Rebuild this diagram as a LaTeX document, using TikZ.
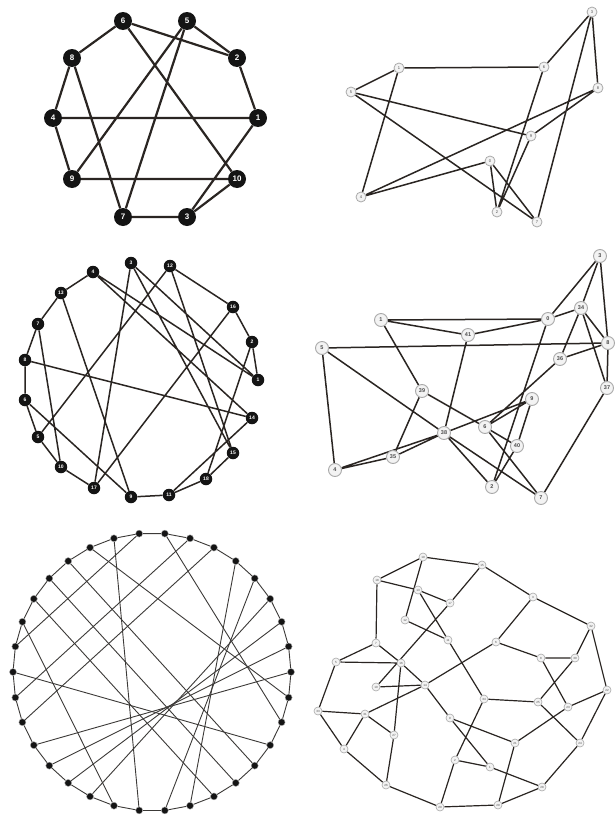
\documentclass[tikz,border=0pt]{standalone}
\usepackage{fontspec}
\setmainfont{Liberation Sans}
\usetikzlibrary{backgrounds}
\definecolor{dotblack}{HTML}{141414}
\definecolor{ringgray}{HTML}{A9A9A9}
\definecolor{ringfill}{HTML}{F3F3F3}
\definecolor{labelgray}{HTML}{4A4A4A}
\definecolor{wirebrown}{HTML}{2A2522}
\definecolor{wiregray}{HTML}{3C3A38}
\tikzset{
  bigdot/.style={circle,fill=dotblack,text=white,inner sep=0pt,minimum size=18pt,font=\fontsize{8}{8}\selectfont\bfseries},
  middot/.style={circle,fill=dotblack,text=white,inner sep=0pt,minimum size=12.5pt,font=\fontsize{5}{5}\selectfont\bfseries},
  tinydot/.style={circle,fill=dotblack,draw=ringgray,line width=0.4pt,inner sep=0pt,minimum size=7pt},
  smallring/.style={circle,draw=ringgray,fill=ringfill,text=labelgray,line width=0.8pt,inner sep=0pt,minimum size=10pt,font=\fontsize{4}{4}\selectfont},
  midring/.style={circle,draw=ringgray,fill=ringfill,text=labelgray,line width=0.9pt,inner sep=0pt,minimum size=13pt,font=\fontsize{5.5}{5.5}\selectfont\bfseries},
  tinyring/.style={circle,draw=ringgray,fill=ringfill,text=labelgray,line width=0.6pt,inner sep=0pt,minimum size=8pt,font=\fontsize{3}{3}\selectfont},
  heavywire/.style={wirebrown,line width=2.2pt},
  wire/.style={wirebrown,line width=1.5pt},
  thinwire/.style={wiregray,line width=0.9pt}
}

\begin{document}
\begin{tikzpicture}[x=1pt,y=-1pt]
  \useasboundingbox (0,0) rectangle (615,819);
  \begin{scope}[on background layer]
    \fill[white] (0,0) rectangle (615,819);
  \end{scope}

  % ten nodes on a ring
  \node[bigdot] (a1) at (258,118) {1}; \node[bigdot] (a2) at (237,58) {2};
  \node[bigdot] (a3) at (187,217) {3}; \node[bigdot] (a4) at (53,118) {4};
  \node[bigdot] (a5) at (187,21) {5};  \node[bigdot] (a6) at (123,21) {6};
  \node[bigdot] (a7) at (123,217) {7}; \node[bigdot] (a8) at (72,58) {8};
  \node[bigdot] (a9) at (72,179) {9};  \node[bigdot] (a10) at (237,179) {10};
  \begin{scope}[on background layer]
    \draw[heavywire] (a6)--(a8) (a6)--(a2) (a6)--(a10) (a5)--(a2) (a5)--(a9) (a5)--(a7)
      (a8)--(a4) (a8)--(a7) (a2)--(a1) (a4)--(a1) (a4)--(a9) (a1)--(a3)
      (a9)--(a10) (a10)--(a3) (a7)--(a3);
  \end{scope}

  % same ten, free layout
  \node[smallring] (b3) at (592,12) {3}; \node[smallring] (b1) at (399,68) {1};
  \node[smallring] (b6) at (544,67) {6}; \node[smallring] (b5) at (351,92) {5};
  \node[smallring] (b8) at (598,88) {8}; \node[smallring] (b9) at (531,136) {9};
  \node[smallring] (b10) at (490,161) {0}; \node[smallring] (b4) at (361,197) {4};
  \node[smallring] (b2) at (497,212) {2}; \node[smallring] (b7) at (537,222) {7};
  \begin{scope}[on background layer]
    \draw[wire] (b1)--(b6) (b1)--(b5) (b1)--(b4) (b5)--(b9) (b5)--(b7) (b3)--(b6)
      (b3)--(b8) (b3)--(b7) (b6)--(b2) (b8)--(b4) (b8)--(b9) (b9)--(b2)
      (b10)--(b4) (b10)--(b2) (b10)--(b7);
  \end{scope}

  % eighteen nodes on a ring
  \node[middot] (c3) at (131,263) {3};   \node[middot] (c12) at (170,266) {12};
  \node[middot] (c4) at (93,272) {4};    \node[middot] (c13) at (61,293) {13};
  \node[middot] (c16) at (233,307) {16}; \node[middot] (c7) at (38,324) {7};
  \node[middot] (c2) at (252,342) {2};   \node[middot] (c8) at (25,360) {8};
  \node[middot] (c1) at (258,380) {1};   \node[middot] (c6) at (25,400) {6};
  \node[middot] (c14) at (252,418) {14}; \node[middot] (c5) at (38,437) {5};
  \node[middot] (c15) at (233,453) {15}; \node[middot] (c10) at (61,467) {10};
  \node[middot] (c18) at (206,479) {18}; \node[middot] (c17) at (94,488) {17};
  \node[middot] (c9) at (131,497) {9};   \node[middot] (c11) at (169,495) {11};
  \begin{scope}[on background layer]
    \draw[wire] (c4)--(c13) (c13)--(c7) (c7)--(c8) (c8)--(c6) (c6)--(c5) (c5)--(c10)
      (c10)--(c17) (c9)--(c11) (c11)--(c18) (c18)--(c15) (c16)--(c2) (c2)--(c1)
      (c12)--(c16) (c4)--(c1) (c4)--(c14) (c3)--(c17) (c3)--(c1) (c3)--(c15)
      (c12)--(c5) (c12)--(c15) (c13)--(c9) (c7)--(c10) (c8)--(c14) (c6)--(c9)
      (c16)--(c17) (c2)--(c18) (c14)--(c11);
  \end{scope}

  % eighteen, free layout
  \node[midring] (d3) at (600,256) {3};   \node[midring] (d34) at (581,308) {34};
  \node[midring] (d1) at (381,320) {1};   \node[midring] (d0) at (548,319) {0};
  \node[midring] (d41) at (468,335) {41}; \node[midring] (d5) at (322,348) {5};
  \node[midring] (d8) at (608,343) {8};   \node[midring] (d36) at (560,359) {36};
  \node[midring] (d39) at (422,391) {39}; \node[midring] (d37) at (607,388) {37};
  \node[midring] (d9) at (532,399) {9};   \node[midring] (d6) at (485,427) {6};
  \node[midring] (d38) at (444,433) {38}; \node[midring] (d40) at (517,446) {40};
  \node[midring] (d35) at (393,457) {35}; \node[midring] (d4) at (335,470) {4};
  \node[midring] (d2) at (492,487) {2};   \node[midring] (d7) at (541,498) {7};
  \begin{scope}[on background layer]
    \draw[wire] (d1)--(d0) (d1)--(d41) (d41)--(d0) (d0)--(d3) (d0)--(d34) (d3)--(d34)
      (d3)--(d8) (d8)--(d37) (d34)--(d8) (d34)--(d37) (d34)--(d36) (d36)--(d8)
      (d5)--(d8) (d5)--(d4) (d5)--(d38) (d38)--(d7) (d1)--(d39) (d39)--(d35)
      (d39)--(d6) (d41)--(d38) (d36)--(d6) (d4)--(d35) (d4)--(d38) (d35)--(d38)
      (d38)--(d9) (d9)--(d6) (d9)--(d40) (d6)--(d40) (d6)--(d7) (d40)--(d2)
      (d2)--(d0) (d38)--(d2) (d37)--(d7);
  \end{scope}

  % thirty-four nodes on a ring
  \foreach \k in {0,...,33}
    \node[tinydot] (f\k) at ({152+139*cos(84.706-10.588*\k)},{672-139*sin(84.706-10.588*\k)}) {};
  \begin{scope}[on background layer]
    \foreach \k in {0,...,33}{
      \pgfmathtruncatemacro{\n}{mod(\k+1,34)}
      \draw[thinwire] (f\k)--(f\n);
    }
    \foreach \u/\v in {32/17,1/24,25/11,22/8,4/16,3/15,33/26,31/9,0/10,30/12,29/13,28/14,23/2,27/18,5/19,6/20,7/21}
      \draw[thinwire] (f\u)--(f\v);
  \end{scope}

  % thirty-four, free layout
  \node[tinyring] (e19) at (423,557) {19}; \node[tinyring] (e18) at (377,580) {18};
  \node[tinyring] (e13) at (418,590) {13}; \node[tinyring] (e17) at (450,603) {17};
  \node[tinyring] (e12) at (405,620) {12}; \node[tinyring] (e11) at (448,640) {11};
  \node[tinyring] (e7) at (376,643) {7};   \node[tinyring] (e5) at (336,662) {5};
  \node[tinyring] (e16) at (401,663) {16}; \node[tinyring] (e15) at (482,565) {15};
  \node[tinyring] (e3) at (533,597) {3};   \node[tinyring] (e32) at (591,626) {32};
  \node[tinyring] (e6) at (496,642) {6};   \node[tinyring] (e8) at (541,658) {8};
  \node[tinyring] (e30) at (575,658) {30}; \node[tinyring] (e10) at (376,687) {10};
  \node[tinyring] (e14) at (425,685) {14}; \node[tinyring] (e33) at (318,711) {33};
  \node[tinyring] (e31) at (365,714) {31}; \node[tinyring] (e9) at (450,718) {9};
  \node[tinyring] (e34) at (484,699) {34}; \node[tinyring] (e25) at (538,702) {25};
  \node[tinyring] (e23) at (568,707) {23}; \node[tinyring] (e22) at (607,690) {22};
  \node[tinyring] (e27) at (394,735) {27}; \node[tinyring] (e4) at (344,749) {4};
  \node[tinyring] (e2) at (455,760) {2};   \node[tinyring] (e21) at (515,743) {21};
  \node[tinyring] (e24) at (580,743) {24}; \node[tinyring] (e1) at (490,767) {1};
  \node[tinyring] (e26) at (386,785) {26}; \node[tinyring] (e28) at (542,787) {28};
  \node[tinyring] (e20) at (440,807) {20}; \node[tinyring] (e29) at (498,805) {29};
  \begin{scope}[on background layer]
    \draw[wire,line width=1.2pt] (e19)--(e18) (e19)--(e15) (e19)--(e12) (e18)--(e13) (e18)--(e7)
      (e13)--(e17) (e13)--(e11) (e12)--(e11) (e15)--(e17) (e17)--(e10) (e15)--(e3)
      (e3)--(e32) (e3)--(e6) (e6)--(e8) (e8)--(e30) (e32)--(e30) (e32)--(e22)
      (e8)--(e23) (e30)--(e25) (e11)--(e34) (e6)--(e14) (e7)--(e5) (e7)--(e16)
      (e5)--(e16) (e5)--(e33) (e16)--(e27) (e16)--(e14) (e10)--(e14) (e33)--(e31)
      (e33)--(e4) (e31)--(e4) (e31)--(e27) (e31)--(e14) (e4)--(e26) (e27)--(e26)
      (e26)--(e20) (e20)--(e29) (e2)--(e20) (e14)--(e9) (e9)--(e21) (e9)--(e1)
      (e34)--(e25) (e34)--(e2) (e2)--(e1) (e1)--(e28) (e25)--(e24) (e23)--(e22)
      (e22)--(e24) (e23)--(e21) (e21)--(e29) (e28)--(e24) (e28)--(e29);
  \end{scope}
\end{tikzpicture}
\end{document}
